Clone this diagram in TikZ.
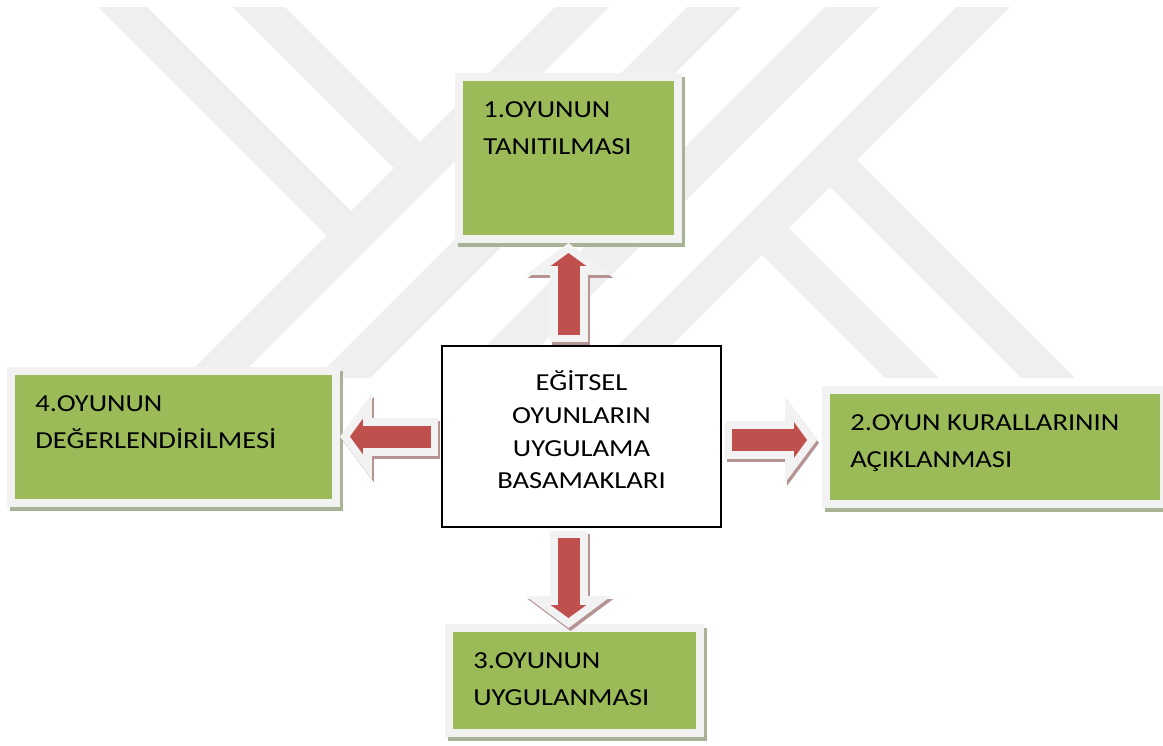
\documentclass[tikz,border=0pt]{standalone}
\usepackage{fontspec}
\setmainfont{Carlito}[FakeStretch=1.17]
\usetikzlibrary{arrows.meta,positioning}

\definecolor{oyungreen}{HTML}{9BBB59}
\definecolor{oyunred}{HTML}{C0504D}
\definecolor{framegray}{HTML}{F2F2F2}
\definecolor{boxshadow}{RGB}{168,178,148}
\definecolor{arrowshadow}{RGB}{182,148,148}
\definecolor{markgray}{HTML}{EFEFEF}

\begin{document}
\begin{tikzpicture}[
                x=0.02cm, y=-0.02cm,
                every node/.style={font=\fontsize{13.9}{21}\selectfont},
                stepbox/.style={fill=oyungreen, draw=framegray, line width=0.16cm, inner sep=0pt,
                        preaction={fill=boxshadow, draw=boxshadow, line width=0.16cm,
                                transform canvas={shift={(0.06cm,-0.08cm)}}}},
                steptext/.style={inner sep=0pt, align=left},
                centerbox/.style={draw=black, line width=1pt, fill=white,
                        minimum width=5.59cm, minimum height=3.63cm},
                centertext/.style={inner sep=0pt, align=center, font=\fontsize{13.9}{18.6}\selectfont},
                glowarrow/.style={draw=framegray, line width=0.76cm, shorten <=0.06cm,
                        -{Triangle[length=0.64cm, width=1.68cm]}},
                redarrow/.style={draw=oyunred, line width=0.44cm, shorten <=0.2cm, shorten >=0.2cm,
                        -{Triangle[length=0.26cm, width=0.7cm]}}
            ]
            \useasboundingbox (0,0) rectangle (1163,745);

            % watermark in the background
            \foreach \x in {555,687,825,956}
                \fill[markgray] (\x,7) -- ++(54,0) -- ++(-371,371) -- ++(-54,0) -- cycle;
            \fill[markgray] (98,7) -- (147,7) -- (351,211) -- (326.5,235.5) -- cycle;
            \fill[markgray] (233,7) -- (285,7) -- (420,142) -- (394,168) -- cycle;
            \fill[markgray] (789,228) -- (939,378) -- (885,378) -- (762,255) -- cycle;
            \fill[markgray] (857,160) -- (1075,378) -- (1021,378) -- (830,187) -- cycle;

            % boxes
            \node[centerbox] (basamak) at (581.5,436.5) {};
            \node[centertext] (basamakyazi) at ([yshift=0.13cm]basamak.center) {EĞİTSEL\\OYUNLARIN\\UYGULAMA\\BASAMAKLARI};
            \node[stepbox, minimum width=4.38cm, minimum height=3.24cm] (tanitim) at (568.5,158) {};
            \node[stepbox, minimum width=6.76cm, minimum height=2.28cm] (kural) at (995,447) {};
            \node[stepbox, minimum width=5.02cm, minimum height=2.1cm] (uygulama) at (574.5,680.5) {};
            \node[stepbox, minimum width=6.5cm, minimum height=2.64cm] (degerlendirme) at (173.5,437) {};

            \node[steptext, below right=0.56cm and 0.56cm of tanitim.north west] (tanitimyazi) {1.OYUNUN\\TANITILMASI};
            \node[steptext, below right=0.56cm and 0.56cm of kural.north west] (kuralyazi) {2.OYUN KURALLARININ\\AÇIKLANMASI};
            \node[steptext, below right=0.56cm and 0.56cm of uygulama.north west] (uygulamayazi) {3.OYUNUN\\UYGULANMASI};
            \node[steptext, below right=0.56cm and 0.56cm of degerlendirme.north west] (degerlendirmeyazi) {4.OYUNUN\\DEĞERLENDİRİLMESİ};

            % block arrows
            \coordinate (upstart) at (tanitim.south |- basamak.north);
            \coordinate (uptip) at (tanitim.south);
            \coordinate (downstart) at (tanitim.south |- basamak.south);
            \coordinate (downtip) at ([yshift=-0.08cm]tanitim.south |- uygulama.north);
            \coordinate (leftstart) at (basamak.west);
            \coordinate (lefttip) at (degerlendirme.east |- basamak.west);
            \coordinate (rightstart) at ([yshift=-0.07cm]basamak.east);
            \coordinate (righttip) at ([xshift=-0.1cm]kural.west |- rightstart);

            \foreach \von/\bis in {upstart/uptip, downstart/downtip, leftstart/lefttip, rightstart/righttip} {
                \draw[glowarrow, draw=arrowshadow, transform canvas={shift={(0.04cm,-0.06cm)}}] (\von) -- (\bis);
                \draw[glowarrow] (\von) -- (\bis);
                \draw[redarrow] (\von) -- (\bis);
            }

        \end{tikzpicture}
\end{document}
